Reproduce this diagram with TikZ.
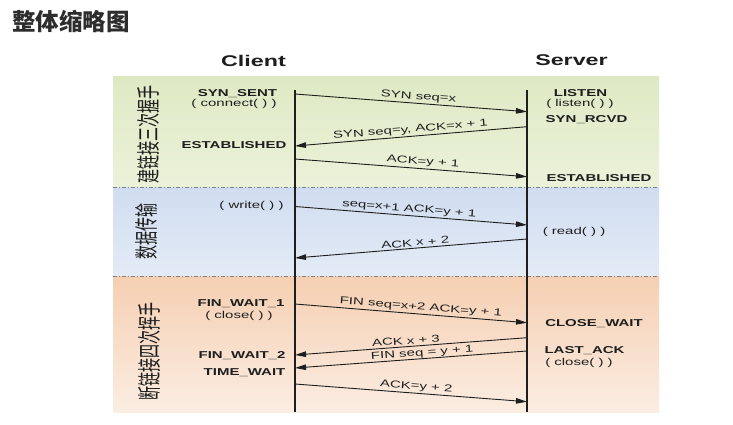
\documentclass[tikz,border=0pt]{standalone}
\usepackage{fontspec}
\setmainfont{Liberation Sans}
\newfontfamily\cjkfont{Noto Sans CJK SC}
\usetikzlibrary{arrows.meta}
\definecolor{ink}{RGB}{30,30,30}
\definecolor{titleink}{RGB}{45,45,45}
\definecolor{gtop}{RGB}{222,233,196}
\definecolor{gbot}{RGB}{236,242,218}
\definecolor{btop}{RGB}{208,221,240}
\definecolor{bbot}{RGB}{228,235,246}
\definecolor{otop}{RGB}{245,207,178}
\definecolor{obot}{RGB}{251,237,226}
\definecolor{sepc}{RGB}{130,130,140}
\begin{document}
\begin{tikzpicture}[x=1pt,y=-1pt,
  statebox/.style={font=\bfseries\fontsize{10}{12}\selectfont, text=ink, xscale=1.5, inner sep=0pt},
  callbox/.style={font=\fontsize{10}{12}\selectfont, text=ink, xscale=1.5, inner sep=0pt},
  msgbox/.style={font=\fontsize{10}{12}\selectfont, text=ink, xscale=1.5, inner sep=1.5pt, above, sloped},
  headbox/.style={font=\bfseries\fontsize{15.5}{18}\selectfont, text=ink, xscale=1.5, inner sep=0pt},
  phasebox/.style={font=\cjkfont\fontsize{14}{16}\selectfont, text=ink, rotate=90, yscale=1.7, inner sep=0pt},
  msgline/.style={draw=ink, line width=0.9pt},
  tipr/.style={-{Triangle[length=11pt,width=5.5pt]}},
  tipl/.style={{Triangle[length=11pt,width=5.5pt]}-},
  lifeline/.style={draw=ink, line width=1.2pt},
  sepline/.style={draw=sepc, line width=0.8pt, dash pattern=on 4pt off 2pt on 1pt off 2pt}
]
\useasboundingbox (0,0) rectangle (733,425);
\fill[white] (0,0) rectangle (733,425);

% bands
\shade[top color=gtop, bottom color=gbot] (113,77) rectangle (659,187);
\shade[top color=btop, bottom color=bbot] (113,187) rectangle (659,276);
\shade[top color=otop, bottom color=obot] (113,276) rectangle (659,412);
\coordinate (sepAl) at (113,187); \coordinate (sepAr) at (659,187);
\coordinate (sepBl) at (113,276); \coordinate (sepBr) at (659,276);
\draw[sepline] (sepAl) -- (sepAr);
\draw[sepline] (sepBl) -- (sepBr);

% title
\node[font=\cjkfont\bfseries\fontsize{23.5}{26}\selectfont, text=titleink, inner sep=0pt] (title) at (71,21.5) {整体缩略图};

% headers
\node[headbox] (client) at (253.5,60.5) {Client};
\node[headbox] (server) at (571.5,60.5) {Server};

% lifelines
\coordinate (ctop) at (295,90); \coordinate (cbot) at (295,412);
\coordinate (stop) at (527,90); \coordinate (sbot) at (527,412);
\draw[lifeline] (ctop) -- (cbot);
\draw[lifeline] (stop) -- (sbot);

% phase labels
\node[phasebox] (ph1) at (148.5,134) {建链接三次握手};
\node[phasebox] (ph2) at (146.5,231.5) {数据传输};
\node[phasebox] (ph3) at (149,351) {断链接四次挥手};

% client states
\node[statebox] (synsent) at (237.5,93.5) {SYN\_SENT};
\node[callbox] (connect) at (234,104) {( connect( ) )};
\node[statebox] (estc) at (234,145) {ESTABLISHED};
\node[callbox] (write) at (251.5,206) {( write( ) )};
\node[statebox] (fw1) at (241,304) {FIN\_WAIT\_1};
\node[callbox] (closec) at (239,316) {( close( ) )};
\node[statebox] (fw2) at (242,355.5) {FIN\_WAIT\_2};
\node[statebox] (tw) at (244.5,373) {TIME\_WAIT};

% server states
\node[statebox] (listen) at (580.5,93.5) {LISTEN};
\node[callbox] (listenc) at (580,104) {( listen( ) )};
\node[statebox] (synrcvd) at (586.5,120) {SYN\_RCVD};
\node[statebox] (ests) at (599,178) {ESTABLISHED};
\node[callbox] (read) at (574,232) {( read( ) )};
\node[statebox] (cw) at (594,323.5) {CLOSE\_WAIT};
\node[statebox] (lastack) at (584.5,350.5) {LAST\_ACK};
\node[callbox] (closes) at (579,362.5) {( close( ) )};

% message endpoints
\coordinate (c1) at (295,94);    \coordinate (s1) at (527,111.7);
\coordinate (c2) at (295,146);   \coordinate (s2) at (527,126.7);
\coordinate (c3) at (295,159);   \coordinate (s3) at (527,176.7);
\coordinate (c4) at (295,206.5); \coordinate (s4) at (527,225);
\coordinate (c5) at (295,258);   \coordinate (s5) at (527,239);
\coordinate (c6) at (295,304);   \coordinate (s6) at (527,322.7);
\coordinate (c7) at (295,355);   \coordinate (s7) at (527,337.7);
\coordinate (c8) at (295,368);   \coordinate (s8) at (527,351);
\coordinate (c9) at (295,384);   \coordinate (s9) at (527,401.7);

% messages
\draw[msgline, tipr] (c1) -- node[msgbox, pos=0.53] {SYN seq=x} (s1);
\draw[msgline, tipl] (c2) -- node[msgbox, pos=0.50] {SYN seq=y, ACK=x + 1} (s2);
\draw[msgline, tipr] (c3) -- node[msgbox, pos=0.55] {ACK=y + 1} (s3);
\draw[msgline, tipr] (c4) -- node[msgbox, pos=0.49] {seq=x+1 ACK=y + 1} (s4);
\draw[msgline, tipl] (c5) -- node[msgbox, pos=0.52] {ACK x + 2} (s5);
\draw[msgline, tipr] (c6) -- node[msgbox, pos=0.54] {FIN seq=x+2 ACK=y + 1} (s6);
\draw[msgline, tipl] (c7) -- node[msgbox, pos=0.48, inner sep=2pt] {ACK x + 3} (s7);
\draw[msgline, tipl] (c8) -- node[msgbox, pos=0.55, inner sep=0.6pt] {FIN seq = y + 1} (s8);
\draw[msgline, tipr] (c9) -- node[msgbox, pos=0.52] {ACK=y + 2} (s9);
\end{tikzpicture}
\end{document}
